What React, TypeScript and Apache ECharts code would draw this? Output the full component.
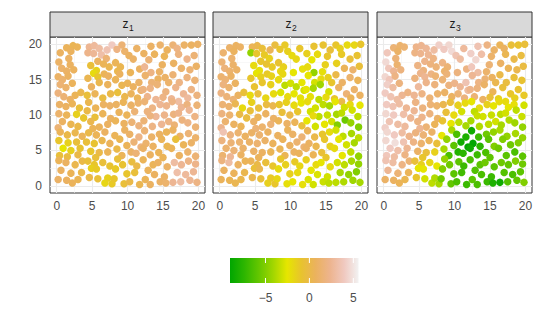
import React, { useEffect, useRef } from "react";
import * as echarts from "echarts";

// facet labels (z with subscript)
const panelSubs = ["1", "2", "3"];
// axis breaks
const majorBreaks = [0, 5, 10, 15, 20];
const minorBreaks = [2.5, 7.5, 12.5, 17.5];
const legendBreaks = [-5, 0, 5];
const legendLabels = ["\u22125", "0", "5"];
const zMin = -9.04;
const zMax = 5.59;
// R terrain.colors(10)
const terrainColors = [
  "#00A600", "#2DB600", "#63C600", "#A0D600", "#E6E600",
  "#E8C32E", "#EBB25E", "#EDB48E", "#F0C9C0", "#F2F2F2",
];

// point locations (shared by the three panels)
const xs = [
  0.5, 1.4, 2.3, 2.9, 2.0, 1.7, 0.3, 1.9, 0.7, 1.4, 2.4,
  4.6, 5.3, 6.0, 4.4, 5.2, 6.3, 7.0, 5.8, 6.6, 4.8, 7.4, 5.6, 5.2, 7.8, 7.1,
  9.2, 8.5, 9.6, 10.2, 10.8, 8.3, 9.0, 8.6, 11.3, 11.7, 10.4,
  12.3, 13.3, 13.0, 12.4, 13.8, 14.9, 14.5, 15.6, 14.6, 13.3, 15.2,
  16.4, 17.0, 17.2, 18.0, 19.0, 19.9, 18.4, 19.4, 16.5, 17.6, 18.8, 19.7,
  0.2, 0.8, 1.6, 0.5, 1.3, 2.2, 0.2, 1.0, 2.6, 3.4, 1.9,
  4.4, 5.8, 6.7, 4.9, 6.0, 7.2, 4.3, 5.4, 6.5, 7.6, 7.3,
  8.3, 9.2, 10.0, 10.8, 11.6, 8.6, 9.6, 10.5, 11.4, 8.9, 11.9,
  12.5, 13.4, 14.3, 15.3, 12.2, 13.2, 14.2, 15.4, 12.8, 14.0, 15.0, 15.8,
  16.4, 17.3, 18.4, 19.5, 16.8, 17.9, 19.0, 19.8, 16.2, 18.5, 17.2,
  0.4, 1.3, 2.2, 3.2, 0.3, 1.4, 2.8, 3.8, 0.8, 2.0, 3.0, 0.2,
  4.5, 5.5, 6.6, 7.5, 4.3, 5.4, 6.5, 7.6, 4.8, 6.0, 7.2, 5.1,
  8.4, 9.4, 10.5, 11.5, 8.8, 9.9, 11.0, 8.3, 9.5, 10.6, 11.6,
  12.4, 13.5, 14.6, 15.5, 12.8, 14.0, 15.2, 12.3, 13.5, 14.8, 15.8, 13.2,
  16.3, 17.6, 18.4, 19.8, 16.5, 17.2, 18.7, 19.5, 16.6, 17.7, 18.5, 19.6,
  0.5, 1.5, 2.6, 3.6, 0.3, 1.6, 2.8, 0.9, 2.0, 3.3, 0.4, 1.5, 3.0,
  4.5, 5.6, 6.8, 4.2, 5.3, 6.4, 7.5, 4.8, 6.0, 7.2, 5.5,
  8.2, 9.6, 10.3, 11.6, 8.9, 9.9, 10.9, 11.9, 8.5, 9.2, 10.5, 11.2,
  12.4, 13.4, 14.5, 15.5, 12.6, 13.6, 14.8, 12.2, 13.2, 14.4, 15.6, 15.0,
  16.4, 17.4, 18.6, 19.6, 16.8, 17.9, 19.0, 16.2, 17.3, 18.5, 19.6,
  0.3, 1.3, 2.6, 3.6, 0.6, 2.0, 0.2, 1.4, 2.2, 3.0, 3.5,
  4.4, 5.3, 4.9, 5.6, 6.5, 7.5, 4.6, 5.8, 6.8, 7.2, 7.8,
  8.6, 9.3, 10.6, 11.3, 8.3, 9.9, 11.0, 8.1, 9.5, 10.3, 11.7,
  12.2, 13.6, 14.3, 15.6, 12.9, 13.8, 15.2, 12.5, 13.2, 14.6, 15.4,
  16.4, 16.6, 17.6, 18.6, 19.6, 17.0, 18.2, 19.3, 17.5, 18.8, 19.8,
];
const ys = [
  18.8, 19.5, 19.8, 19.6, 19.0, 18.0, 17.5, 17.1, 16.6, 16.2, 16.4,
  19.6, 19.8, 19.4, 18.8, 18.7, 18.5, 18.0, 17.6, 17.2, 17.0, 16.8, 16.3, 15.9, 19.9, 19.2,
  19.9, 19.3, 19.0, 18.4, 17.9, 17.4, 16.8, 16.2, 19.4, 16.5, 16.0,
  18.7, 19.7, 17.8, 16.8, 18.6, 17.1, 16.1, 19.2, 19.9, 16.0, 18.3,
  19.9, 19.4, 18.6, 19.9, 19.9, 20.0, 17.9, 18.4, 17.3, 16.6, 16.4, 16.9,
  15.4, 15.0, 15.5, 14.3, 13.9, 14.5, 13.1, 12.6, 12.8, 13.2, 12.2,
  15.2, 15.4, 15.8, 14.0, 14.6, 14.3, 12.8, 13.0, 12.4, 13.0, 15.5,
  15.0, 14.2, 14.5, 14.0, 14.6, 13.2, 12.6, 13.0, 12.4, 15.8, 13.5,
  15.6, 14.6, 15.1, 15.3, 13.6, 13.8, 14.3, 13.3, 12.6, 12.2, 12.5, 14.6,
  15.7, 14.6, 15.3, 14.9, 13.9, 13.0, 13.6, 12.8, 12.3, 12.4, 11.9,
  11.5, 11.2, 11.6, 11.0, 10.2, 10.0, 10.1, 9.6, 9.1, 8.7, 8.4, 8.2,
  11.8, 11.0, 11.5, 11.3, 10.6, 9.7, 10.2, 9.5, 9.1, 8.3, 8.7, 8.1,
  11.5, 11.8, 11.4, 11.7, 10.4, 10.0, 10.5, 9.2, 8.8, 9.0, 8.5,
  11.9, 11.0, 11.5, 11.3, 10.5, 9.8, 10.0, 9.2, 8.4, 8.7, 9.1, 9.9,
  11.9, 11.1, 11.5, 11.4, 10.1, 10.3, 10.7, 9.8, 8.6, 9.3, 8.9, 8.3,
  7.6, 7.2, 7.5, 7.0, 6.4, 6.1, 6.2, 5.3, 5.0, 5.3, 4.3, 4.1, 4.4,
  7.5, 7.2, 7.6, 6.2, 6.0, 6.4, 6.0, 4.9, 4.7, 4.8, 4.0,
  7.1, 7.9, 7.3, 6.9, 6.6, 5.7, 6.2, 5.5, 5.2, 4.3, 4.8, 4.6,
  7.8, 6.9, 7.3, 7.6, 6.0, 5.6, 6.6, 5.3, 4.4, 4.7, 5.6, 4.0,
  7.9, 7.0, 7.4, 6.8, 6.6, 5.8, 6.1, 5.3, 4.3, 4.8, 4.2,
  3.6, 3.3, 3.0, 3.5, 2.2, 1.8, 0.9, 0.8, 0.4, 0.9, 1.9,
  3.5, 3.0, 2.5, 2.4, 3.3, 2.8, 1.2, 1.0, 0.4, 1.1, 0.3,
  3.8, 3.0, 3.4, 2.8, 2.4, 1.7, 1.9, 1.0, 0.3, 0.6, 0.2,
  3.7, 3.0, 3.3, 2.7, 2.2, 1.6, 1.3, 0.9, 0.2, 0.6, 0.4,
  0.5, 3.3, 3.0, 3.5, 3.1, 1.9, 1.6, 2.0, 0.6, 0.8, 0.5,
];
const z1 = [
  0.8, 0.6, 0.4, 0.5, 0.7, 0.9, 1.0, 0.8, 1.2, 1.0, 0.7,
  2.5, 2.8, 3.0, 2.2, 2.6, 3.2, 1.5, 0.8, 0.5, -0.5, 0.3, -1.5, -2.0, 4.0, 3.5,
  1.5, 2.0, 1.2, 0.8, 1.0, 0.5, 0.3, 0.2, 1.0, 0.8, 0.5,
  0.8, 1.0, 1.5, 2.5, 0.6, 0.8, 1.0, 0.7, 1.2, 2.0, 0.5,
  1.5, 2.0, 1.8, 1.0, 0.8, 1.0, 2.2, 1.5, 0.8, 1.2, 1.5, 1.0,
  1.0, 1.3, 0.8, 1.5, 1.2, 0.6, 1.8, 1.5, 0.5, 0.2, 1.0,
  0.3, -1.0, 0.5, 0.8, 0.2, 0.6, -0.5, 0.5, -0.2, 0.0, 0.8,
  0.5, 0.3, 0.5, 0.8, 1.0, -0.5, 0.2, 0.6, 0.5, 0.7, 1.2,
  1.2, 1.5, 0.8, 1.0, 1.8, 2.0, 1.5, 1.8, 2.2, 2.5, 2.0, 1.2,
  1.5, 2.0, 1.8, 1.5, 2.2, 2.5, 2.0, 1.8, 2.5, 2.8, 3.0,
  1.0, 0.8, 0.5, -0.5, 1.2, 0.5, -1.5, -1.0, 0.8, 0.3, 0.0, 1.5,
  0.2, 0.5, 0.8, 1.0, 0.0, -0.5, 0.5, 0.8, 0.2, 0.6, 0.8, 0.5,
  0.8, 0.5, 1.0, 1.2, 0.6, 0.5, 1.5, 0.5, 0.8, 1.5, 1.8,
  1.5, 2.0, 2.5, 2.2, 1.8, 2.6, 2.2, 1.5, 2.0, 2.5, 2.0, 1.8,
  2.0, 2.5, 1.8, 1.5, 1.8, 2.2, 2.5, 2.0, 1.5, 1.8, 2.0, 1.5,
  0.5, 0.0, 0.2, 0.5, -1.0, -1.5, -0.5, -2.5, -1.5, -0.8, -0.5, -0.2, 0.0,
  0.0, 0.5, 0.8, -0.5, -0.8, 0.2, 0.6, -1.0, 0.0, 0.5, -0.5,
  0.5, 0.8, 1.0, 2.0, 0.3, 0.5, 1.5, 1.8, 0.0, 0.5, 1.0, 1.5,
  1.5, 1.0, 0.8, 0.5, 1.2, 0.8, 0.5, 1.0, 0.8, 0.5, 0.3, 0.5,
  0.8, 1.0, 1.5, 1.2, -0.5, 0.5, 1.0, 0.5, 0.8, 1.2, 1.5,
  0.5, 0.8, 0.2, 0.0, 0.8, 0.5, 1.0, 0.8, 0.6, 0.4, 0.0,
  -0.5, -1.0, -1.5, -1.2, -0.5, -0.8, 0.0, -0.5, -1.8, -1.5, -1.2,
  -0.5, -0.8, -0.3, 0.0, -1.2, -1.0, -0.5, -1.0, -0.5, 0.0, 0.3,
  0.5, 0.5, 0.8, 1.0, 0.6, 0.8, 1.0, 0.5, 0.8, 1.0, 1.2,
  2.5, 3.0, 2.5, 2.0, 2.2, 3.2, 2.8, 2.5, 3.0, 2.5, 2.0,
];
const z2 = [
  1.3, 1.1, 0.8, 0.9, 0.7, 1.3, 1.5, 1.1, 1.7, 1.3, 1.0,
  0.5, 0.2, -0.5, -4.5, -1.0, -1.2, -1.5, -1.0, -0.8, -2.0, -1.2, -2.2, -2.5, -0.3, 0.5,
  -1.2, -1.0, -1.5, -2.0, -1.8, -0.8, -1.5, -1.8, -1.0, -2.2, -2.5,
  -1.5, -0.8, -2.5, -2.0, -2.0, -1.5, -2.2, -0.5, -0.8, -4.5, -1.0,
  -1.0, -1.5, -1.2, -2.0, -1.8, -1.0, -0.5, -0.8, -1.5, 0.5, 1.2, -0.5,
  1.3, 1.5, 0.9, 1.8, 1.3, 0.8, 1.9, 1.6, 0.8, -0.5, 1.5,
  -1.0, -1.5, -1.2, -0.8, -1.0, -1.5, -2.0, -0.5, -1.8, -2.0, -1.6,
  -2.0, -3.5, -3.0, -3.5, -2.5, -2.8, -2.0, -2.5, -2.2, -1.8, -3.0,
  -2.5, -3.0, -2.0, -1.5, -2.5, -4.0, -4.2, -3.0, -2.2, -3.5, -2.0, -1.0,
  0.0, 1.0, 1.2, 0.5, 0.8, 1.5, 1.2, 0.8, -1.0, 0.5, 0.0,
  1.5, 1.3, 0.3, -2.0, 1.8, 1.3, 0.0, -0.3, 1.3, 0.8, 0.5, 2.3,
  -1.5, -0.5, -0.2, 0.2, -0.5, 0.5, 0.8, 1.0, 1.0, 1.2, 1.5, 1.5,
  -1.0, -1.5, -2.0, -2.5, -0.5, 0.0, -1.0, 0.5, 1.0, 0.5, -0.5,
  -2.0, -3.0, -3.5, -4.0, -3.0, -3.5, -3.2, -2.5, -3.0, -2.5, -3.0, -2.0,
  -2.5, -3.0, -2.0, -2.5, -4.0, -3.5, -3.0, -3.5, -5.0, -5.5, -4.5, -5.0,
  3.5, 1.8, 1.3, 0.8, 1.8, 1.5, 1.3, 1.3, 1.5, 1.1, 1.3, 2.5, 0.8,
  1.0, 1.3, 0.8, 1.0, 1.3, 1.0, 0.6, 1.0, 0.8, 0.4, 0.6,
  0.8, 0.6, 1.0, 1.5, 0.6, 0.8, 1.3, 1.5, 0.4, 0.4, 0.8, 0.6,
  0.5, 0.0, -1.0, -2.0, 0.8, 0.2, -1.0, 1.0, 0.5, -0.5, -1.5, -1.0,
  -3.0, -3.5, -4.0, -3.5, -2.5, -3.0, -4.0, -2.0, -2.5, -3.5, -4.5,
  1.8, 3.0, 0.8, 0.5, 0.8, 0.6, 0.6, 0.4, 0.3, 0.2, 0.2,
  0.5, 0.0, -0.5, 0.2, -0.5, -1.0, 0.2, -0.5, -1.5, -1.2, -1.0,
  -1.0, -1.5, -1.2, -1.8, -2.0, -1.5, -2.0, -1.8, -2.2, -2.5, -2.2,
  -1.5, -2.0, -2.5, -2.0, -2.5, -2.8, -3.0, -2.8, -3.0, -3.2, -3.5,
  -3.5, -3.0, -3.5, -4.0, -4.5, -4.0, -4.5, -5.0, -3.8, -4.2, -4.0,
];
const z3 = [
  3.8, 1.5, 1.2, 1.4, 1.0, 1.6, 4.6, 1.3, 3.8, 2.5, 1.8,
  2.2, 2.4, 2.6, 2.0, 2.3, 2.5, 2.0, 2.2, 1.8, 2.0, 1.6, 1.8, 2.2, 4.2, 3.0,
  4.5, 4.0, 4.6, 3.5, 3.0, 2.0, 1.5, 1.2, 2.8, 2.0, 1.8,
  4.2, 3.5, 4.5, 3.8, 3.2, 1.5, 1.2, 1.0, 2.0, 3.0, 1.2,
  0.5, 0.8, 0.3, -0.5, -0.8, -0.5, 0.0, -0.3, 1.0, 0.5, 0.2, -0.2,
  4.5, 3.8, 2.0, 4.2, 3.0, 1.8, 4.0, 3.5, 2.5, 2.0, 3.0,
  1.8, 2.5, 2.0, 2.8, 2.2, 1.8, 2.5, 2.0, 1.5, 1.2, 1.5,
  1.5, 1.8, 2.2, 2.5, 3.5, 1.0, 0.8, 1.5, 1.8, 1.6, 3.0,
  2.5, 2.0, 1.5, 0.8, 2.2, 1.8, 1.0, 0.5, 1.5, 0.8, -0.5, 0.2,
  0.0, -0.3, -0.5, -0.8, -0.5, -1.0, -0.8, -1.2, -1.5, -1.5, -2.0,
  4.0, 3.5, 3.0, 2.5, 4.5, 4.0, 3.2, 2.5, 3.5, 3.0, 2.8, 4.2,
  2.0, 1.8, 1.5, 1.2, 2.5, 2.2, 1.8, 1.0, 2.0, 1.5, 0.5, 2.5,
  0.2, -0.5, -1.5, -2.0, -0.5, -2.0, -3.0, -0.8, -2.5, -3.5, -4.0,
  -2.5, -2.0, -1.5, -2.5, -3.5, -3.0, -3.2, -4.0, -3.8, -3.5, -3.0, -3.2,
  -2.0, -2.5, -2.2, -3.0, -3.5, -3.0, -3.5, -3.2, -4.0, -3.8, -4.2, -4.5,
  4.5, 4.0, 3.0, 2.2, 4.5, 4.8, 3.5, 4.0, 3.2, 2.5, 3.8, 3.0, 2.0,
  1.8, 1.5, 1.0, 2.0, 1.2, 0.5, -0.5, 1.0, -0.5, -1.5, -1.0,
  -2.5, -4.0, -6.5, -8.0, -4.5, -6.0, -8.5, -9.0, -4.0, -6.5, -7.8, -7.5,
  -8.5, -7.0, -5.5, -4.5, -9.0, -7.5, -6.0, -8.5, -7.0, -6.5, -5.0, -6.0,
  -4.0, -4.5, -4.0, -4.5, -5.0, -5.5, -5.0, -5.5, -6.0, -6.5, -6.0,
  3.5, 3.0, 2.0, 1.5, 2.5, 1.5, 1.0, 0.8, 0.5, 0.3, 0.5,
  -0.5, -1.5, -2.5, -2.5, -1.8, -2.5, -1.0, -3.0, -3.5, -3.8, -4.0,
  -4.5, -5.5, -6.0, -7.0, -5.0, -6.0, -6.8, -5.5, -5.8, -6.5, -7.0,
  -6.5, -6.0, -5.5, -6.0, -6.3, -6.5, -7.0, -6.0, -6.5, -7.0, -8.0,
  -8.5, -5.5, -5.8, -5.0, -5.5, -6.2, -6.5, -6.0, -6.2, -5.8, -5.0,
];

const FONT = "'Liberation Sans', Arial, Helvetica, sans-serif";

export default function App() {
  const ref = useRef<HTMLDivElement>(null);
  useEffect(() => {
    if (!ref.current) return;
    const chart = echarts.init(ref.current, null, { renderer: "svg" });
    const zs = [z1, z2, z3];
    const lefts = [50, 213, 377];
    const top = 37;
    const width = 155;
    const height = 156;
    const stripTop = 12;
    const stripH = 25;

    const grids = lefts.map((l) => ({
      left: l, top, width, height, show: true,
      borderColor: "#333333", borderWidth: 1, backgroundColor: "#FFFFFF",
    }));
    const xAxes = lefts.map((_, i) => ({
      type: "value", gridIndex: i, min: -0.95, max: 20.93,
      splitLine: { show: false },
      axisLine: { show: false },
      axisTick: { show: true, inside: false, length: 3.5, customValues: majorBreaks,
        lineStyle: { color: "#333333", width: 1 } },
      axisLabel: { show: true, customValues: majorBreaks, margin: 7,
        color: "#4D4D4D", fontSize: 12, fontFamily: FONT },
    }));
    const yAxes = lefts.map((_, i) => ({
      type: "value", gridIndex: i, min: -1.0, max: 21.02,
      splitLine: { show: false },
      axisLine: { show: false },
      axisTick: { show: i === 0, inside: false, length: 3.5, customValues: majorBreaks,
        lineStyle: { color: "#333333", width: 1 } },
      axisLabel: { show: i === 0, customValues: majorBreaks, margin: 8,
        color: "#4D4D4D", fontSize: 12, fontFamily: FONT },
    }));

    const majorStyle = { color: "#EBEBEB", width: 1.1, type: "solid" };
    const minorStyle = { color: "#F4F4F4", width: 0.6, type: "solid" };
    const gridSeries = lefts.map((_, i) => ({
      type: "scatter", xAxisIndex: i, yAxisIndex: i, data: [], silent: true, z: 1,
      markLine: {
        z: 1, zlevel: 0,
        silent: true, symbol: ["none", "none"], label: { show: false }, animation: false,
        emphasis: { disabled: true },
        data: [
          ...minorBreaks.map((v) => ({ xAxis: v, lineStyle: minorStyle })),
          ...minorBreaks.map((v) => ({ yAxis: v, lineStyle: minorStyle })),
          ...majorBreaks.map((v) => ({ xAxis: v, lineStyle: majorStyle })),
          ...majorBreaks.map((v) => ({ yAxis: v, lineStyle: majorStyle })),
        ],
      },
    }));
    const pointSeries = lefts.map((_, i) => ({
      type: "scatter", xAxisIndex: i, yAxisIndex: i, z: 6,
      symbolSize: 7.5, symbol: "circle",
      itemStyle: { opacity: 1 },
      emphasis: { disabled: true },
      data: xs.map((x, k) => [x, ys[k], zs[i][k]]),
    }));

    const visualMaps = lefts.map((_, i) => ({
      type: "continuous", show: false, seriesIndex: 3 + i, dimension: 2,
      min: zMin, max: zMax, inRange: { color: terrainColors },
    }));

    const graphics: any[] = [];
    lefts.forEach((l, i) => {
      graphics.push({
        type: "rect", silent: true,
        shape: { x: l, y: stripTop, width, height: stripH },
        style: { fill: "#D9D9D9", stroke: "#333333", lineWidth: 1 },
      });
      const cx = l + width / 2;
      graphics.push({
        type: "text", silent: true, x: cx + 1, y: stripTop + stripH / 2 - 1,
        style: { text: "z", font: `12px ${FONT}`, fontSize: 12, fontFamily: FONT,
          fill: "#1A1A1A", align: "right", verticalAlign: "middle",
          textAlign: "right", textVerticalAlign: "middle" },
      });
      graphics.push({
        type: "text", silent: true, x: cx + 1.5, y: stripTop + stripH / 2 + 3.5,
        style: { text: panelSubs[i], font: `8.5px ${FONT}`, fontSize: 8.5, fontFamily: FONT,
          fill: "#1A1A1A", align: "left", verticalAlign: "middle",
          textAlign: "left", textVerticalAlign: "middle" },
      });
    });

    // colourbar legend
    const barX = 230, barY = 258, barW = 128.5, barH = 25;
    graphics.push({
      type: "rect", silent: true,
      shape: { x: barX, y: barY, width: barW, height: barH },
      style: {
        fill: {
          type: "linear", x: 0, y: 0, x2: 1, y2: 0,
          colorStops: terrainColors.map((c, k) => ({ offset: k / (terrainColors.length - 1), color: c })),
        },
      },
    });
    legendBreaks.forEach((v, k) => {
      const px = barX + ((v - zMin) / (zMax - zMin)) * barW;
      graphics.push({ type: "line", silent: true,
        shape: { x1: px, y1: barY, x2: px, y2: barY + 5 },
        style: { stroke: "#FFFFFF", lineWidth: 1 } });
      graphics.push({ type: "line", silent: true,
        shape: { x1: px, y1: barY + barH - 5, x2: px, y2: barY + barH },
        style: { stroke: "#FFFFFF", lineWidth: 1 } });
      graphics.push({
        type: "text", silent: true, x: px, y: 298,
        style: { text: legendLabels[k], font: `12px ${FONT}`, fontSize: 12, fontFamily: FONT,
          fill: "#4D4D4D", align: "center", verticalAlign: "middle",
          textAlign: "center", textVerticalAlign: "middle" },
      });
    });

    chart.setOption({
      animation: false,
      backgroundColor: "#FFFFFF",
      grid: grids,
      xAxis: xAxes,
      yAxis: yAxes,
      visualMap: visualMaps,
      series: [...gridSeries, ...pointSeries],
      graphic: graphics,
    } as any);
    return () => chart.dispose();
  }, []);
  return (
    <div
      ref={ref}
      style={{ position: "fixed", left: 0, top: 0, width: 540, height: 325 }}
    />
  );
}
